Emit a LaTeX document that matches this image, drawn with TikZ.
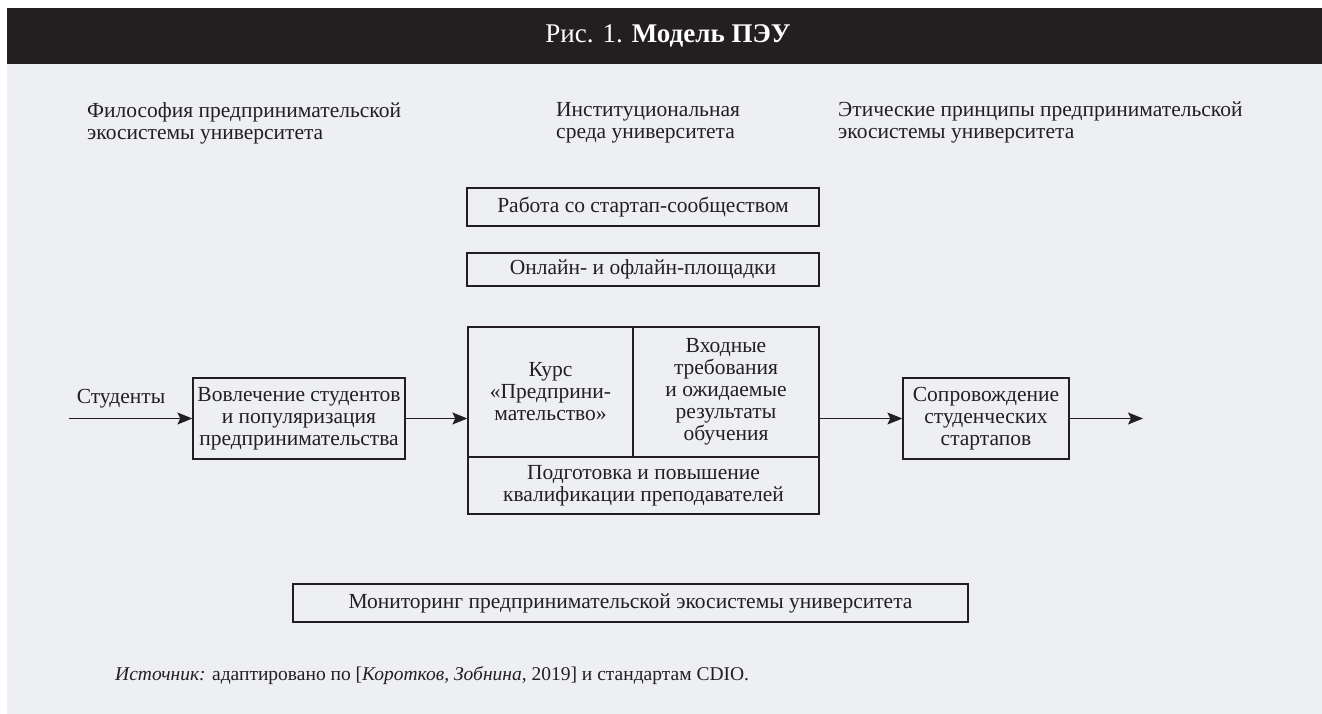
\documentclass[tikz,border=0pt]{standalone}
\usepackage{fontspec}
\setmainfont{Liberation Serif}
\usetikzlibrary{arrows.meta}
\definecolor{ink}{HTML}{231F20}
\definecolor{bg}{HTML}{EEEFF3}
\begin{document}
\begin{tikzpicture}[x=1pt,y=-1pt,
  txt/.style={font=\fontsize{21.5}{22}\selectfont, text=ink, align=center, inner sep=0pt},
  box/.style={txt, draw=ink, line width=1.3pt, rectangle},
  conn/.style={draw=ink, line width=1.3pt, -{Stealth[length=15pt,width=12pt,inset=3pt]}}
]
\useasboundingbox (0,0) rectangle (1322,714);
\fill[white] (0,0) rectangle (1322,714);
\fill[bg] (7,8) rectangle (1322,714);
\fill[ink] (7,8) rectangle (1322,64);
\node[font=\fontsize{27}{29}\selectfont, text=white] (title) at (668,36) {Рис. 1. \textbf{Модель ПЭУ}};

% top labels
\node[txt, align=left, anchor=north west] (phil) at (87,102) {Философия предпринимательской\\экосистемы университета};
\node[txt, align=left, anchor=north west] (inst) at (556,102) {Институциональная\\среда университета};
\node[txt, align=left, anchor=north west] (eth) at (838,102) {Этические принципы предпринимательской\\экосистемы университета};

% stacked boxes
\node[box, minimum width=352pt, minimum height=38pt] (comm) at (643,207) {Работа со стартап-сообществом};
\node[box, minimum width=352pt, minimum height=33pt] (plat) at (643,269.5) {Онлайн- и офлайн-площадки};

% big box cells
\node[box, minimum width=165pt, minimum height=130pt] (kurs) at (550.5,392) {Курс\\«Предприни-\\мательство»};
\node[box, minimum width=186pt, minimum height=130pt] (vhod) at (726,392) {Входные\\требования\\и ожидаемые\\результаты\\обучения};
\node[box, minimum width=351pt, minimum height=57pt] (podg) at (643.5,485.5) {Подготовка и повышение\\квалификации преподавателей};

% left / right boxes
\node[box, minimum width=212pt, minimum height=81pt] (vovl) at (299,418.5) {Вовлечение студентов\\и популяризация\\предпринимательства};
\node[box, minimum width=166pt, minimum height=81pt] (sopr) at (986,418.5) {Сопровождение\\студенческих\\стартапов};

\node[txt] (stud) at (121,399) {Студенты};
\coordinate (in) at (69,418.5);
\coordinate (out) at (1143,418.5);

\draw[conn] (in) -- (vovl.west);
\draw[conn] (vovl.east) -- (vovl.east -| kurs.west);
\draw[conn] (vovl.east -| vhod.east) -- (sopr.west);
\draw[conn] (sopr.east) -- (out);

% monitoring
\node[box, minimum width=675pt, minimum height=38pt] (mon) at (630.5,603) {Мониторинг предпринимательской экосистемы университета};

% source
\node[font=\fontsize{19.5}{21}\selectfont, text=ink, anchor=base west, inner sep=0pt] (src) at (115,680) {\textit{Источник:} адаптировано по [\textit{Коротков, Зобнина}, 2019] и стандартам CDIO.};
\end{tikzpicture}
\end{document}
